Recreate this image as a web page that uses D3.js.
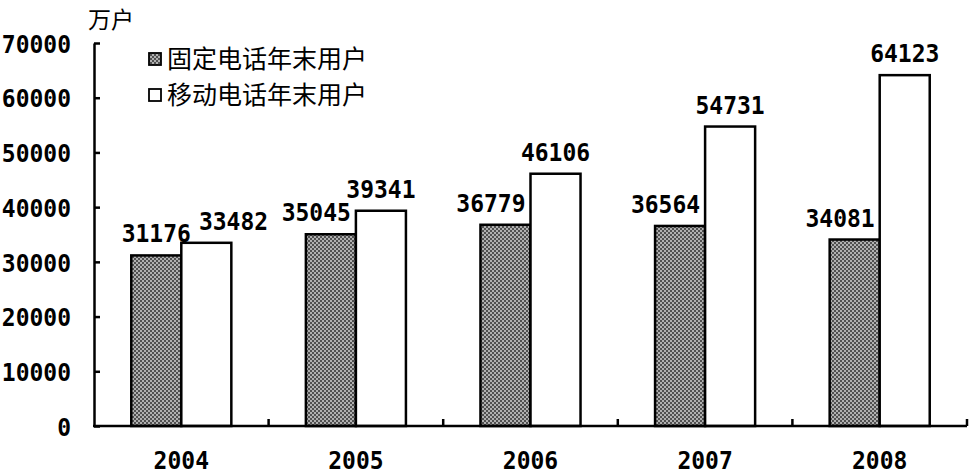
<!DOCTYPE html>
<html><head><meta charset="utf-8">
<script src="https://cdn.jsdelivr.net/npm/d3@7"></script>
<style>
html,body{margin:0;padding:0;background:#fff;}
svg{display:block;}
</style>
</head><body>
<svg id="chart" width="969" height="476"></svg>
<script>
const years = ["2004","2005","2006","2007","2008"];
const seriesNames = ["固定电话年末用户","移动电话年末用户"];
const fixedUsers = [31176,35045,36779,36564,34081];
const mobileUsers = [33482,39341,46106,54731,64123];
const yTicks = [0,10000,20000,30000,40000,50000,60000,70000];
const unitLabel = "万户";

const svg = d3.select("#chart");
const plotL = 94, plotR = 967, plotT = 43, plotB = 426;
const numFont = "'DejaVu Sans Mono', monospace";
const cjkFont = "'Noto Sans CJK SC', sans-serif";
const numSize = 23, numStretch = 1.1;

const defs = svg.append("defs");
const pat = defs.append("pattern").attr("id","dots").attr("patternUnits","userSpaceOnUse")
  .attr("width",4).attr("height",4);
pat.append("rect").attr("width",4).attr("height",4).attr("fill","#b0b0b0");
pat.append("rect").attr("width",2).attr("height",2).attr("fill","#505050");
pat.append("rect").attr("x",2).attr("y",2).attr("width",2).attr("height",2).attr("fill","#505050");

const x = d3.scaleBand().domain(years).range([plotL,plotR]).paddingInner(0).paddingOuter(0);
const xs = d3.scaleBand().domain([0,1]).range([0,x.bandwidth()]).paddingInner(0).paddingOuter(0.745);
const y = d3.scaleLinear().domain([0,70000]).range([plotB,plotT]);

const data = years.map((yr,i)=>({year:yr, vals:[fixedUsers[i], mobileUsers[i]]}));

function numText(sel, tx, ty, str, anchor){
  return sel.append("text")
    .attr("transform",`translate(${tx},${ty}) scale(1,${numStretch})`)
    .attr("text-anchor",anchor||"middle")
    .attr("font-family",numFont).attr("font-weight","bold").attr("font-size",numSize)
    .attr("fill","#000").text(str);
}

// bars
const g = svg.append("g");
data.forEach(d=>{
  d.vals.forEach((v,s)=>{
    g.append("rect")
      .attr("x", x(d.year)+xs(s))
      .attr("y", y(v))
      .attr("width", xs.bandwidth())
      .attr("height", y(0)-y(v))
      .attr("fill", s===0 ? "url(#dots)" : "#fff")
      .attr("stroke","#000").attr("stroke-width",2.5);
  });
});

// value labels with simple collision avoidance inside each year
const charW = numSize*0.602, capH = numSize*0.729*numStretch, gap = 13;
data.forEach(d=>{
  const labs = d.vals.map((v,s)=>{
    const w = String(v).length*charW;
    const cx = x(d.year)+xs(s)+xs.bandwidth()/2;
    const base = y(v)-gap;
    return {v, cx, base, w};
  });
  const a = labs[0], b = labs[1];
  const nbX = x(d.year)+xs(1), nbTop = y(d.vals[1]);
  if (a.base > nbTop + 3 && a.cx + a.w/2 > nbX - 5){ a.cx = nbX - 5 - a.w/2; }
  const vOverlap = !(a.base < b.base - capH - 2 || b.base < a.base - capH - 2);
  const hOverlap = (a.cx + a.w/2 + 8) - (b.cx - b.w/2);
  if (vOverlap && hOverlap > 0){ b.cx += hOverlap; }
  labs.forEach(l=>numText(svg, l.cx, l.base, l.v));
});

// y axis
const yAxis = d3.axisLeft(y).tickValues(yTicks).tickSizeInner(-6).tickSizeOuter(0).tickPadding(23)
  .tickFormat(d3.format("d"));
const ya = svg.append("g").attr("transform",`translate(${plotL},0)`).call(yAxis);
ya.select(".domain").attr("stroke","#000").attr("stroke-width",2.5);
ya.selectAll(".tick line").attr("stroke","#000").attr("stroke-width",2.5);
ya.selectAll(".tick text").attr("font-family",numFont).attr("font-weight","bold")
  .attr("font-size",numSize).attr("fill","#000")
  .attr("dy",null).attr("y",null)
  .attr("transform",`translate(0,${capH/2}) scale(1,${numStretch})`);

// x axis
const xa = svg.append("g");
xa.append("line").attr("x1",plotL-1).attr("x2",plotR).attr("y1",plotB).attr("y2",plotB)
  .attr("stroke","#000").attr("stroke-width",2.5);
const bounds = years.slice(1).map(yr=>x(yr)).concat([plotR]);
xa.selectAll("line.tk").data(bounds).enter().append("line").attr("class","tk")
  .attr("x1",d=>d).attr("x2",d=>d).attr("y1",plotB).attr("y2",plotB-7)
  .attr("stroke","#000").attr("stroke-width",2.5);
years.forEach(yr=>numText(xa, x(yr)+x.bandwidth()/2, 469, yr));

// unit label
svg.append("text").attr("x",88).attr("y",28)
  .attr("font-family",cjkFont).attr("font-size",23).attr("fill","#000").text(unitLabel);

// legend
const lg = svg.append("g");
seriesNames.forEach((n,i)=>{
  const cy = 59 + i*36;
  lg.append("rect").attr("x",149).attr("y",cy-6).attr("width",12).attr("height",12)
    .attr("fill", i===0 ? "url(#dots)" : "#fff").attr("stroke","#000").attr("stroke-width",1.8);
  lg.append("text").attr("x",167).attr("y",cy+9)
    .attr("font-family",cjkFont).attr("font-size",25).attr("fill","#000").text(n);
});
</script>
</body></html>
